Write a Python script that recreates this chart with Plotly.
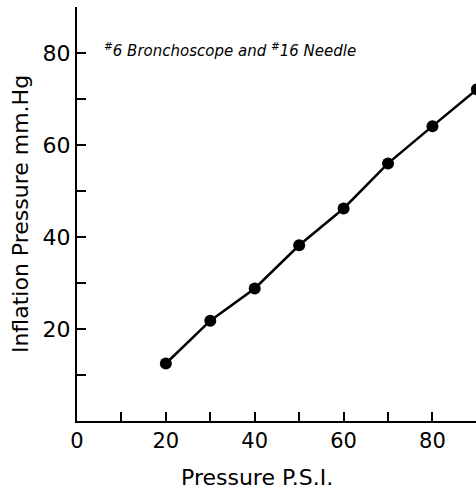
import plotly.graph_objects as go

# Inflation pressure vs. driving pressure, #6 bronchoscope with #16 needle
psi = [20, 30, 40, 50, 60, 70, 80, 90]
inflation_mmhg = [12.5, 21.8, 28.8, 38.2, 46.2, 56.0, 64.1, 72.1]

x_tick_vals = [0, 20, 40, 60, 80]
y_tick_vals = [20, 40, 60, 80]

note_text = "<sup>#</sup>6 Bronchoscope and <sup>#</sup>16 Needle"
x_title = "Pressure P.S.I."
y_title = "Inflation Pressure mm.Hg"

FONT = "DejaVu Sans, Century Gothic, sans-serif"

fig = go.Figure()
fig.add_trace(go.Scatter(
    x=psi, y=inflation_mmhg,
    mode="lines+markers",
    line=dict(color="black", width=2.5),
    marker=dict(color="black", size=12),
    showlegend=False,
))

fig.add_annotation(
    x=5.7, y=80.6, xref="x", yref="y",
    text=note_text, showarrow=False,
    xanchor="left", yanchor="middle",
    font=dict(family=FONT, size=15, color="black", style="italic"),
)

# x-axis title sits left of the plot-area centre, so place it by hand
fig.add_annotation(
    x=0.451, y=-0.137, xref="paper", yref="paper",
    text=x_title, showarrow=False,
    xanchor="center", yanchor="middle",
    font=dict(family=FONT, size=22, color="black"),
)

axis_common = dict(
    showline=True, linecolor="black", linewidth=2,
    ticks="inside", ticklen=9, tickwidth=1.5, tickcolor="black",
    showgrid=False, zeroline=False,
    minor=dict(dtick=10, tick0=0, ticks="inside", ticklen=9,
               tickwidth=1.5, tickcolor="black", showgrid=False),
)

fig.update_xaxes(
    range=[0, 89.8], tickmode="array", tickvals=x_tick_vals,
    tickfont=dict(family=FONT, size=21, color="black"),
    **axis_common,
)
fig.update_yaxes(
    range=[0, 90], tickmode="array", tickvals=y_tick_vals,
    tickfont=dict(family=FONT, size=22, color="black"),
    title=dict(text=y_title, standoff=8,
               font=dict(family=FONT, size=22, color="black")),
    **axis_common,
)

fig.update_layout(
    width=476, height=492,
    margin=dict(l=77, r=0, t=7, b=71),
    paper_bgcolor="white", plot_bgcolor="white",
)

fig.write_html("out.html")
